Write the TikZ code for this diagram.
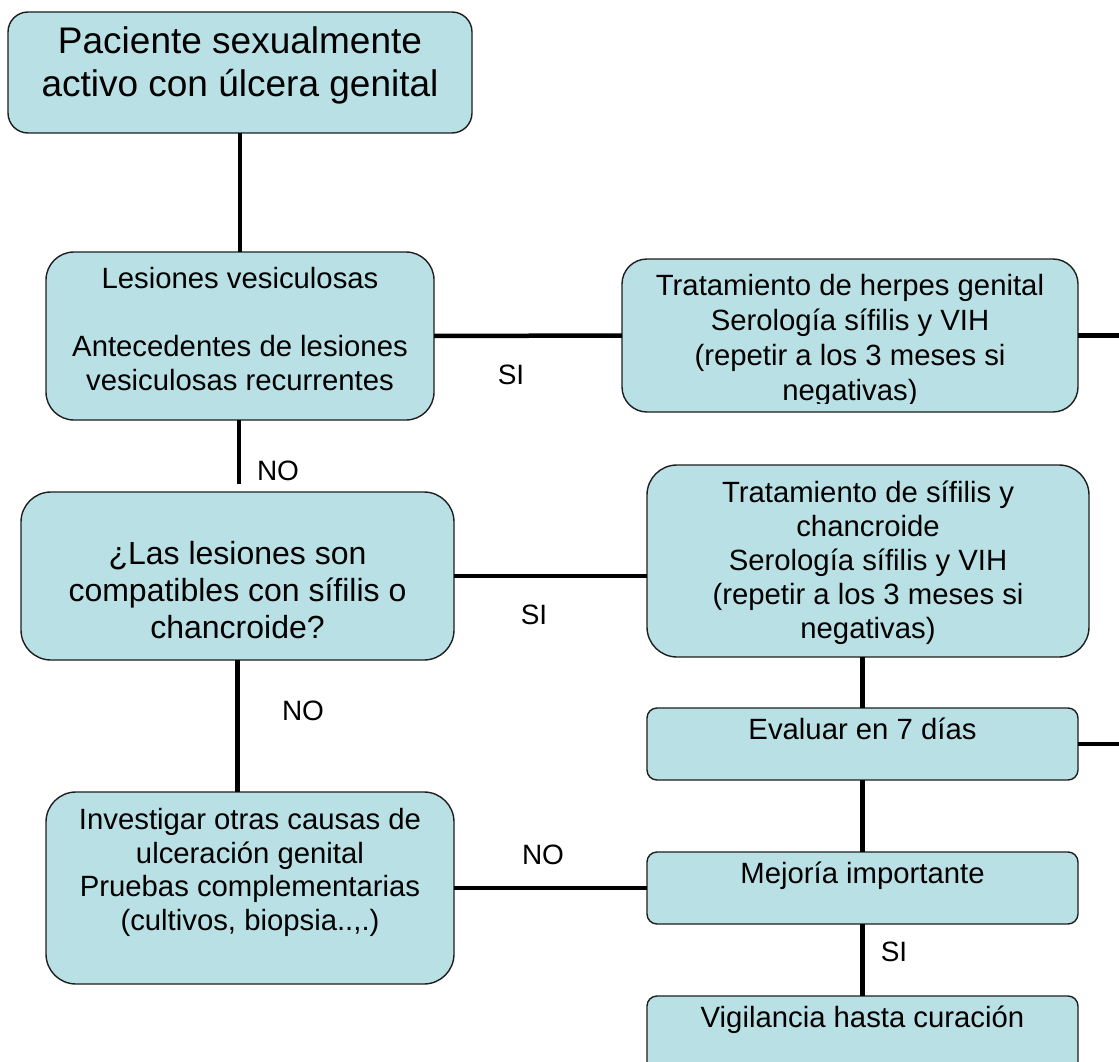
\documentclass[tikz,border=0pt]{standalone}
\usepackage{fontspec}
\setmainfont{Liberation Sans}
\definecolor{boxfill}{RGB}{185,224,228}
\definecolor{boxline}{RGB}{30,30,30}
\begin{document}
\begin{tikzpicture}[x=1pt,y=-1pt,
  box/.style={draw=boxline, line width=1.4pt, fill=boxfill, inner sep=0pt, outer sep=0pt},
  conn/.style={line width=4.5pt, draw=black},
  txt/.style={align=center, inner sep=0pt, anchor=base, text=black},
  normaltxt/.style={txt, font=\fontsize{29.3}{34}\selectfont},
  lbl/.style={inner sep=0pt, font=\fontsize{28}{32}\selectfont}]
\useasboundingbox (0,0) rectangle (1119,1062);
\clip (0,0) rectangle (1119,1062);
\fill[white] (0,0) rectangle (1119,1062);

% boxes
\node[box, rounded corners=20pt, minimum width=464pt, minimum height=121pt] (A) at (240,72.5) {};
\node[box, rounded corners=28pt, minimum width=388pt, minimum height=168pt] (B) at (240,336) {};
\node[box, rounded corners=25pt, minimum width=456pt, minimum height=153pt] (C) at (850,335.5) {};
\node[box, rounded corners=30pt, minimum width=433pt, minimum height=168pt] (D) at (237.5,576) {};
\node[box, rounded corners=30pt, minimum width=442pt, minimum height=192pt] (E) at (868,561) {};
\node[box, rounded corners=10pt, minimum width=431pt, minimum height=72pt] (F) at (862.5,744) {};
\node[box, rounded corners=10pt, minimum width=431pt, minimum height=72pt] (G) at (862.5,888) {};
\node[box, rounded corners=10pt, minimum width=431pt, minimum height=84pt] (H) at (862.5,1038) {};
\node[box, rounded corners=30pt, minimum width=408pt, minimum height=192pt] (I) at (250,888) {};

% texts (anchor = baseline of the last line)
\node[txt, font=\fontsize{37}{43}\selectfont] (tA) at (240,97) {Paciente sexualmente\\activo con úlcera genital};
\node[normaltxt] (tB) at (240,390.5) {Lesiones vesiculosas\\[34pt]Antecedentes de lesiones\\vesiculosas recurrentes};
\begin{scope}
\clip (622,259) rectangle (1078,403);
\node[txt, font=\fontsize{29.3}{35}\selectfont] (tC) at (850,400.5) {Tratamiento de herpes genital\\Serología sífilis y VIH\\(repetir a los 3 meses si\\negativas)};
\end{scope}
\node[txt, font=\fontsize{32}{37}\selectfont] (tD) at (237.5,638) {¿Las lesiones son\\compatibles con sífilis o\\chancroide?};
\node[normaltxt] (tE) at (868,638) {Tratamiento de sífilis y\\chancroide\\Serología sífilis y VIH\\(repetir a los 3 meses si\\negativas)};
\node[normaltxt] (tF) at (862.5,739.5) {Evaluar en 7 días};
\node[normaltxt] (tG) at (862.5,883.5) {Mejoría importante};
\node[normaltxt] (tH) at (862.5,1027.5) {Vigilancia hasta curación};
\node[txt, font=\fontsize{29.3}{33.7}\selectfont] (tI) at (250,930.5) {Investigar otras causas de\\ulceración genital\\Pruebas complementarias\\(cultivos, biopsia..,.)};

% free ends
\coordinate (Cout) at (1119,335.5);
\coordinate (Fout) at (1119,744);
\coordinate (Bend) at (239,484);

% connectors
\draw[conn] (A.south) -- (B.north);
\draw[conn] (B.east) -- (C.west);
\draw[conn] (C.east) -- (Cout);
\draw[conn] (B.south -| Bend) -- (Bend);
\draw[conn] (D.east) -- (D.east -| E.west);
\draw[conn] (D.south) -- (D.south |- I.north);
\draw[conn] (F.north |- E.south) -- (F.north);
\draw[conn] (F.east) -- (Fout);
\draw[conn] (F.south) -- (G.north);
\draw[conn] (I.east) -- (G.west);
\draw[conn] (G.south) -- (H.north);

% labels
\node[lbl] (l1) at (511,375) {SI};
\node[lbl] (l2) at (278,471) {NO};
\node[lbl] (l3) at (534,615) {SI};
\node[lbl] (l4) at (303,711) {NO};
\node[lbl] (l5) at (543,855) {NO};
\node[lbl] (l6) at (894,952) {SI};
\end{tikzpicture}
\end{document}
